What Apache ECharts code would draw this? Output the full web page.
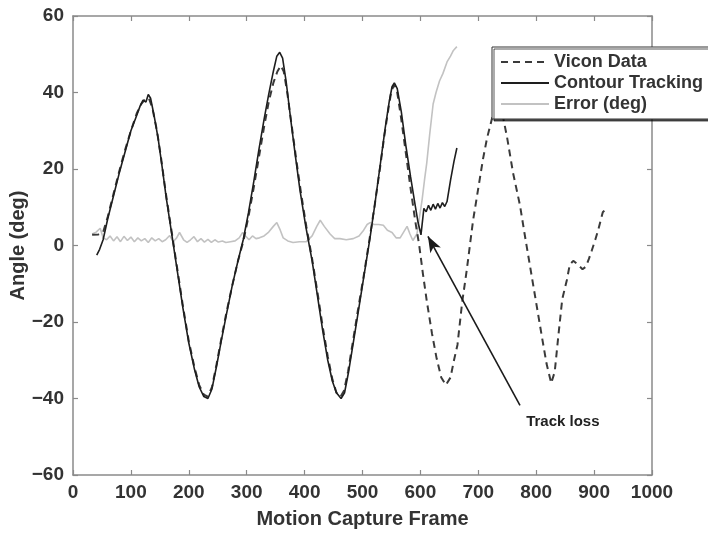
<!DOCTYPE html>
<html>
<head>
<meta charset="utf-8">
<script src="https://cdn.jsdelivr.net/npm/echarts@6/dist/echarts.min.js"></script>
<style>html,body{margin:0;padding:0;background:#fff}#c{width:708px;height:533px}</style>
</head>
<body>
<div id="c"></div>
<script>
// ---- data (frame, angle in deg) ----
const seriesNames = ['Vicon Data', 'Contour Tracking', 'Error (deg)'];
const xTicks = [0, 100, 200, 300, 400, 500, 600, 700, 800, 900, 1000];
const yTicks = [-60, -40, -20, 0, 20, 40, 60];

const vicon = [[33,2.8],[44,2.9],[52,3.5],[60,7.5],[70,13.5],[80,19.5],[90,25],[100,30],[110,34.5],[118,37],[125,38.3],[131,38.5],[137,36],[145,30],[152,23],[160,14],[167,7],[174,0],[182,-8],[190,-16],[200,-25],[210,-32],[218,-36.5],[226,-39],[233,-39.5],[240,-37],[248,-31],[256,-24.5],[265,-17.5],[275,-10.5],[285,-4],[294,1],[303,7.5],[312,15],[321,23],[330,31],[338,37.5],[346,42.5],[353,45.5],[359,47],[364,45.5],[370,40],[378,31],[386,22],[394,13.5],[403,5],[413,-3.5],[422,-12],[431,-21],[440,-29],[448,-35],[455,-38.5],[462,-39.5],[468,-38],[475,-33],[483,-25.5],[492,-17],[502,-8],[512,1.5],[521,10.5],[530,20],[538,29],[545,36],[550,40.5],[555,42],[560,40],[567,33],[575,24],[583,15],[591,6.5],[598,0],[604,-7],[611,-14.5],[620,-23],[628,-29.5],[636,-34.5],[644,-36.5],[652,-34.5],[658,-30],[664,-26],[672,-15],[680,-6.5],[691,6.6],[700,15],[708,22.5],[715,28],[724,33.4],[733,37.5],[743,33.4],[750,28],[760,19],[772,10.5],[780,3],[790,-6],[800,-15],[810,-24],[818,-31],[826,-36],[832,-33],[838,-24],[845,-14],[853,-9],[858,-5],[864,-4],[872,-5],[880,-6.2],[886,-5.5],[891,-3.5],[896,-1.3],[902,1.5],[907,4],[915,8.7],[920,9.5]];

const tracking = [[41,-2.5],[46,-1],[52,1.5],[60,7],[70,13],[80,19],[90,24.5],[100,30],[110,34],[116,36.5],[121,38],[126,37.5],[130,39.5],[134,38.5],[140,34],[147,28],[154,20.5],[161,12.5],[168,5.5],[174,-0.5],[182,-8.5],[190,-16.5],[200,-25.5],[210,-32.5],[218,-37],[226,-39.5],[233,-40],[240,-37.5],[248,-31.5],[256,-25],[265,-18],[275,-10.5],[285,-4],[294,1.5],[303,8.5],[312,16.5],[321,25],[330,33],[338,39.5],[346,45.5],[352,49.5],[357,50.5],[362,49],[368,43],[376,33],[384,23.5],[392,14.5],[402,5],[413,-4],[422,-13],[431,-22],[440,-30],[448,-35.5],[455,-38.5],[463,-40],[469,-38.5],[476,-33],[484,-25.5],[493,-17],[503,-7.5],[513,2],[522,11.5],[531,21.5],[539,30.5],[546,37.5],[551,41.5],[555,42.5],[560,41],[567,35],[575,26],[583,18],[591,10.5],[596,6],[601,2.8],[606,9.7],[610,8.8],[614,10.5],[618,9.2],[622,10.8],[626,9.5],[630,11],[634,9.8],[638,11.2],[642,10.2],[646,11.5],[652,17],[658,22],[663,25.5]];

const errorDeg = [[33,3],[40,3.5],[47,4.5],[52,2],[58,1.5],[64,2.5],[70,1.2],[76,2.3],[82,1],[88,2.4],[94,1.3],[100,2.2],[106,1],[112,2],[118,1.2],[124,1.8],[130,0.8],[136,2],[142,1.2],[148,1.8],[154,1],[160,1.5],[167,2.6],[173,1],[179,2],[184,3.4],[191,1.5],[197,0.8],[203,1.5],[209,2.3],[215,1],[221,1.8],[227,0.9],[233,1.6],[239,0.8],[245,1.5],[251,0.9],[258,1.2],[264,0.8],[272,1],[280,1.2],[287,2],[293,3.4],[298,2.5],[304,1.5],[310,2.5],[316,1.8],[322,2],[330,2.5],[338,3.5],[346,5],[352,6],[358,4],[363,2],[371,1.2],[380,0.8],[391,1],[403,1],[413,2.5],[421,5],[427,6.6],[434,5],[444,3],[452,1.8],[461,1.8],[472,1.5],[484,1.8],[494,2.5],[502,4],[508,5.5],[513,6],[520,5.5],[528,5.5],[536,5.3],[543,4],[551,3.4],[558,2],[565,2],[571,3.5],[577,5],[582,3],[587,1.3],[594,3],[599,8],[603,12],[607,17],[611,21.6],[616,29],[622,37],[627,40],[633,43],[639,45],[646,48],[652,49.5],[657,51],[663,52]];

// annotation: arrow from label to the track-loss point
const annotationText = 'Track loss';
const arrowTail = [772, -41.8];
const arrowHead = [613, 2.4];
const labelPos = [846, -46.2];

// ---- chart ----
const FONT = '"Liberation Sans", Arial, Helvetica, sans-serif';
const AXIS_GRAY = '#8a8a8a';
const chart = echarts.init(document.getElementById('c'), null, {renderer: 'canvas'});
const fmt = v => String(v).replace('-', '\u2212');
const baseAxis = {
  axisLine: {show: true, onZero: false, lineStyle: {color: AXIS_GRAY, width: 1.5}},
  axisTick: {show: true, inside: true, length: 5, lineStyle: {color: AXIS_GRAY, width: 1.2}},
  splitLine: {show: false}
};
const xRange = {min: xTicks[0], max: xTicks[xTicks.length - 1], interval: xTicks[1] - xTicks[0]};
const yRange = {min: yTicks[0], max: yTicks[yTicks.length - 1], interval: yTicks[1] - yTicks[0]};
chart.setOption({
  animation: false,
  backgroundColor: '#fff',
  grid: {left: 73, right: 56, top: 16, bottom: 58, containLabel: false, outerBoundsMode: 'none'},
  xAxis: [
    Object.assign({}, baseAxis, xRange, {
      type: 'value', position: 'bottom',
      name: 'Motion Capture Frame', nameLocation: 'middle', nameGap: 34, nameMoveOverlap: false,
      nameTextStyle: {fontFamily: FONT, fontWeight: 'bold', fontSize: 20, color: '#333'},
      axisLabel: {fontFamily: FONT, fontWeight: 'bold', fontSize: 19, color: '#333', margin: 8, formatter: fmt}
    }),
    Object.assign({}, baseAxis, xRange, {type: 'value', position: 'top', axisLabel: {show: false}})
  ],
  yAxis: [
    Object.assign({}, baseAxis, yRange, {
      type: 'value', position: 'left',
      name: 'Angle (deg)', nameLocation: 'middle', nameGap: 45, nameRotate: 90, nameMoveOverlap: false,
      nameTextStyle: {fontFamily: FONT, fontWeight: 'bold', fontSize: 20, color: '#333'},
      axisLabel: {fontFamily: FONT, fontWeight: 'bold', fontSize: 19, color: '#333', margin: 9, formatter: fmt}
    }),
    Object.assign({}, baseAxis, yRange, {type: 'value', position: 'right', axisLabel: {show: false}})
  ],
  legend: {
    orient: 'vertical', left: 492, top: 47,
    padding: [6, 30, 6, 8], itemGap: 3, itemWidth: 48, itemHeight: 14,
    backgroundColor: '#fff', borderColor: '#333', borderWidth: 1,
    shadowColor: 'rgba(0,0,0,0.65)', shadowBlur: 0, shadowOffsetX: 2, shadowOffsetY: 2,
    itemStyle: {opacity: 0},
    textStyle: {fontFamily: FONT, fontWeight: 'bold', fontSize: 18, color: '#333', lineHeight: 17},
    data: seriesNames
  },
  series: [
    {
      name: seriesNames[0], type: 'line', data: vicon, symbol: 'none', smooth: false,
      lineStyle: {color: '#3a3a3a', width: 2, type: [7, 5]}, itemStyle: {color: '#3a3a3a'}, z: 3
    },
    {
      name: seriesNames[1], type: 'line', data: tracking, symbol: 'none',
      lineStyle: {color: '#1e1e1e', width: 1.6}, itemStyle: {color: '#1e1e1e'}, z: 4
    },
    {
      name: seriesNames[2], type: 'line', data: errorDeg, symbol: 'none',
      lineStyle: {color: '#c2c2c2', width: 1.6}, itemStyle: {color: '#c2c2c2'}, z: 2,
      markLine: {
        silent: true, animation: false,
        symbol: ['none', 'arrow'], symbolSize: [9, 16],
        label: {show: false},
        lineStyle: {color: '#1a1a1a', width: 1.6, type: 'solid'},
        data: [[{coord: arrowTail}, {coord: arrowHead}]]
      },
      markPoint: {
        silent: true, animation: false,
        symbol: 'rect', symbolSize: 1, itemStyle: {color: 'rgba(0,0,0,0)'},
        label: {show: true, position: 'inside', formatter: annotationText,
          fontFamily: FONT, fontWeight: 'bold', fontSize: 15, color: '#222'},
        data: [{coord: labelPos}]
      }
    }
  ]
});
</script>
</body>
</html>
